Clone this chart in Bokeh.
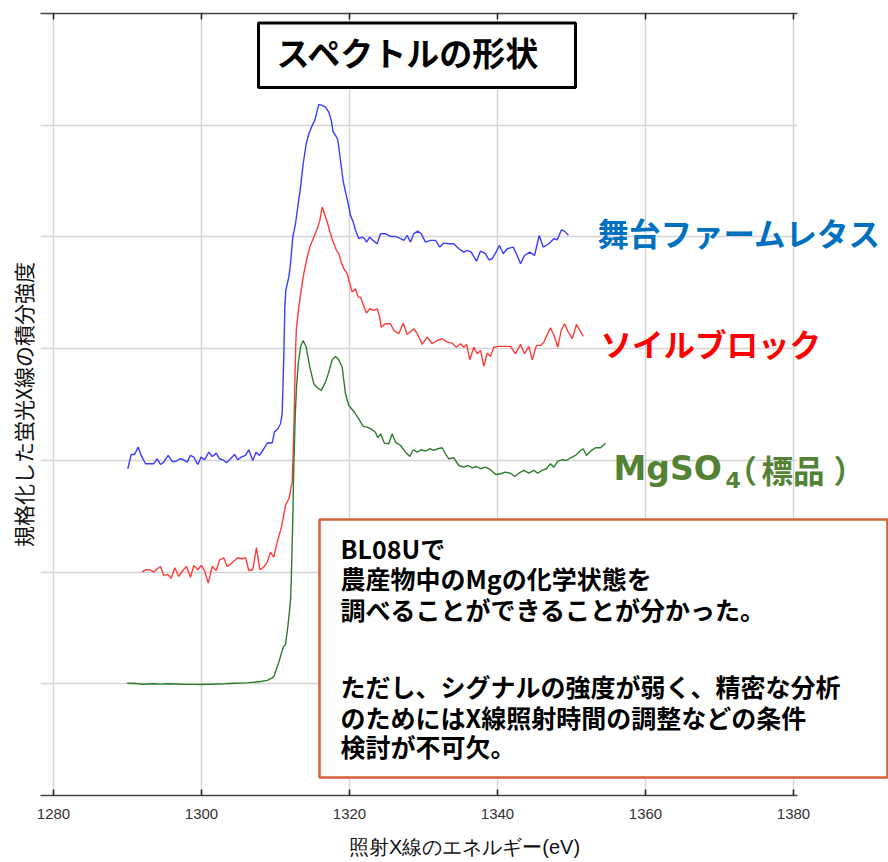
from bokeh.plotting import figure
from bokeh.models import Range1d, FixedTicker, LinearAxis, Label, BoxAnnotation
from bokeh.embed import file_html
from bokeh.resources import INLINE

# ---------------- data ----------------
x_ticks = [1280, 1300, 1320, 1340, 1360, 1380]
y_grid = [0, 1, 2, 3, 4, 5, 6, 7]

lettuce_e = [1290.04, 1290.50, 1290.95, 1291.45, 1291.85, 1292.43, 1293.10, 1293.55, 1294.00, 1294.46,
             1294.90, 1295.50, 1296.04, 1296.49, 1297.07, 1297.60, 1298.07, 1298.50, 1298.96, 1299.50,
             1299.96, 1300.40, 1300.99, 1301.45, 1301.99, 1302.43, 1302.88, 1303.38, 1303.92, 1304.46,
             1304.90, 1305.36, 1305.95, 1306.39, 1306.93, 1307.39, 1307.84, 1308.34, 1308.88, 1309.10,
             1309.55, 1309.86, 1310.31, 1310.68, 1310.90, 1311.12, 1311.26, 1311.39, 1311.80, 1312.03,
             1312.34, 1312.70, 1313.01, 1313.38, 1313.74, 1314.15, 1314.50, 1314.96, 1315.31, 1315.64,
             1315.85, 1316.31, 1316.76, 1317.20, 1317.53, 1317.80, 1318.11, 1318.42, 1318.78, 1319.15,
             1319.46, 1319.82, 1320.14, 1320.50, 1320.81, 1321.26, 1321.72, 1322.03, 1322.30, 1322.74,
             1323.28, 1323.74, 1324.19, 1324.86, 1325.54, 1326.22, 1326.89, 1327.34, 1327.80, 1328.24,
             1328.69, 1329.23, 1329.69, 1330.27, 1330.95, 1331.62, 1332.20, 1332.74, 1333.42, 1334.09,
             1334.77, 1335.45, 1335.90, 1336.45, 1337.16, 1337.70, 1338.38, 1338.82, 1339.28, 1339.73,
             1340.27, 1340.77, 1341.31, 1342.12, 1342.66, 1343.11, 1343.65, 1344.36, 1345.00, 1345.64,
             1346.18, 1346.93, 1347.61, 1348.07, 1348.65, 1349.05, 1349.59]
lettuce_i = [2.925, 3.053, 3.053, 3.118, 3.044, 2.970, 2.970, 2.970, 3.014, 2.963,
             2.984, 3.044, 2.990, 2.990, 3.014, 3.005, 2.984, 3.044, 3.029, 2.963,
             3.029, 3.005, 3.073, 3.035, 3.065, 3.014, 3.005, 2.979, 3.014, 3.053,
             3.005, 3.029, 3.044, 3.095, 2.999, 3.073, 3.044, 3.095, 3.154, 3.158,
             3.154, 3.253, 3.283, 3.328, 3.417, 3.924, 4.372, 4.521, 4.640, 4.760,
             4.998, 5.118, 5.267, 5.446, 5.655, 5.834, 5.924, 5.998, 6.043, 6.133,
             6.186, 6.177, 6.162, 6.117, 6.043, 5.938, 5.909, 5.870, 5.685, 5.496,
             5.401, 5.297, 5.193, 5.133, 5.059, 4.984, 4.998, 4.984, 4.954, 4.998,
             4.962, 4.939, 5.029, 5.029, 5.004, 5.004, 4.984, 4.969, 5.013, 4.954,
             5.029, 5.052, 5.029, 4.954, 4.969, 4.969, 4.909, 4.945, 4.939, 4.939,
             4.894, 4.864, 4.879, 4.864, 4.783, 4.873, 4.850, 4.796, 4.805, 4.855,
             4.924, 4.850, 4.894, 4.909, 4.834, 4.760, 4.834, 4.864, 4.834, 5.013,
             4.909, 4.939, 4.984, 4.975, 5.064, 5.052, 5.016]

soil_e = [1291.99, 1292.43, 1293.01, 1293.55, 1294.01, 1294.46, 1294.90, 1295.45, 1295.90, 1296.39,
          1296.93, 1297.47, 1297.97, 1298.51, 1298.96, 1299.50, 1299.96, 1300.41, 1300.91, 1301.45,
          1301.99, 1302.47, 1303.01, 1303.47, 1304.01, 1304.46, 1304.91, 1305.50, 1305.95, 1306.39,
          1306.93, 1307.43, 1307.88, 1308.42, 1308.88, 1309.32, 1309.77, 1310.23, 1310.81, 1311.35,
          1311.80, 1312.26, 1312.30, 1312.47, 1312.61, 1312.74, 1312.84, 1313.15, 1313.47, 1313.82,
          1314.28, 1314.64, 1315.09, 1315.64, 1315.99, 1316.31, 1316.62, 1316.99, 1317.43, 1317.80,
          1318.24, 1318.55, 1318.88, 1319.23, 1319.69, 1320.04, 1320.36, 1320.81, 1321.18, 1321.49,
          1321.80, 1322.30, 1322.74, 1323.28, 1323.74, 1324.09, 1324.28, 1324.86, 1325.54, 1325.99,
          1326.66, 1327.26, 1327.80, 1328.69, 1329.23, 1329.82, 1330.50, 1331.18, 1331.85, 1332.53,
          1333.20, 1333.88, 1334.46, 1335.00, 1335.45, 1335.81, 1336.26, 1336.80, 1337.26, 1337.70,
          1338.15, 1338.61, 1339.05, 1339.50, 1340.18, 1341.08, 1341.76, 1342.43, 1343.11, 1343.65,
          1344.23, 1344.69, 1345.27, 1345.81, 1346.26, 1347.16, 1347.70, 1348.15, 1348.61, 1349.05,
          1349.50, 1350.09, 1350.68, 1351.12, 1351.58]
soil_i = [1.999, 2.021, 2.021, 1.999, 2.030, 2.050, 1.970, 1.979, 1.945, 2.039,
          1.961, 2.014, 2.050, 1.954, 2.059, 2.021, 2.059, 2.014, 1.901, 2.050,
          2.014, 2.110, 2.128, 2.050, 2.074, 2.104, 2.128, 2.119, 2.128, 2.014,
          2.021, 2.218, 2.021, 2.044, 2.089, 2.178, 2.133, 2.268, 2.402, 2.596,
          2.656, 2.805, 2.910, 3.238, 3.686, 4.044, 4.193, 4.372, 4.521, 4.670,
          4.819, 4.909, 4.984, 5.073, 5.148, 5.267, 5.208, 5.133, 5.029, 4.954,
          4.879, 4.850, 4.774, 4.715, 4.671, 4.581, 4.506, 4.536, 4.461, 4.461,
          4.402, 4.318, 4.357, 4.342, 4.357, 4.282, 4.193, 4.223, 4.223, 4.163,
          4.133, 4.228, 4.127, 4.178, 4.127, 4.038, 4.103, 4.044, 4.073, 4.089,
          4.058, 4.049, 4.013, 4.044, 4.013, 4.038, 3.901, 4.013, 3.954, 3.984,
          3.841, 3.960, 3.930, 4.013, 4.020, 4.020, 4.020, 3.954, 4.038, 3.954,
          4.020, 3.901, 4.029, 4.029, 4.058, 4.187, 4.109, 4.013, 4.163, 4.223,
          4.157, 4.089, 4.217, 4.163, 4.109]

mgso4_e = [1289.96, 1291.00, 1292.20, 1293.50, 1294.50, 1295.40, 1296.50, 1297.50, 1298.70, 1299.90,
           1301.00, 1302.20, 1303.30, 1304.40, 1305.50, 1306.40, 1307.10, 1308.00, 1308.90, 1309.50,
           1309.80, 1310.45, 1311.04, 1311.35, 1311.66, 1311.80, 1312.03, 1312.12, 1312.34, 1312.47,
           1312.66, 1312.84, 1313.07, 1313.38, 1313.74, 1314.15, 1314.64, 1315.18, 1315.64, 1316.18,
           1316.76, 1317.20, 1317.66, 1318.11, 1318.55, 1319.01, 1319.46, 1319.91, 1320.58, 1321.26,
           1321.85, 1322.39, 1323.07, 1323.51, 1323.82, 1324.19, 1324.73, 1325.31, 1325.77, 1326.22,
           1326.89, 1327.57, 1328.15, 1328.61, 1329.15, 1329.69, 1330.27, 1330.85, 1331.39, 1331.93,
           1332.53, 1332.97, 1333.42, 1334.09, 1334.77, 1335.45, 1336.04, 1336.58, 1337.16, 1337.70,
           1338.38, 1339.05, 1339.73, 1340.41, 1341.08, 1341.76, 1342.34, 1342.88, 1343.55, 1344.23,
           1344.91, 1345.45, 1346.04, 1346.62, 1347.16, 1347.61, 1348.15, 1348.74, 1349.32, 1349.86,
           1350.54, 1351.12, 1351.58, 1352.03, 1352.57, 1353.24, 1353.92, 1354.59]
mgso4_i = [1.005, 1.003, 0.996, 1.000, 0.997, 1.000, 0.998, 0.996, 0.995, 0.994,
           0.996, 0.998, 1.000, 1.005, 1.006, 1.010, 1.014, 1.020, 1.030, 1.050,
           1.070, 1.193, 1.328, 1.352, 1.507, 1.596, 1.746, 1.895, 2.492, 2.939,
           3.387, 3.655, 3.865, 4.014, 4.073, 4.014, 3.834, 3.686, 3.650, 3.626,
           3.700, 3.790, 3.901, 3.930, 3.901, 3.834, 3.596, 3.491, 3.438, 3.372,
           3.304, 3.297, 3.274, 3.252, 3.202, 3.238, 3.154, 3.149, 3.238, 3.163,
           3.133, 3.073, 3.035, 3.095, 3.073, 3.095, 3.082, 3.104, 3.089, 3.104,
           3.113, 3.059, 3.014, 3.023, 2.954, 2.939, 2.954, 2.933, 2.945, 2.925,
           2.939, 2.916, 2.874, 2.880, 2.894, 2.885, 2.856, 2.885, 2.910, 2.885,
           2.910, 2.885, 2.910, 2.925, 2.970, 2.939, 2.993, 3.005, 2.999, 3.023,
           3.044, 3.082, 3.104, 3.044, 3.082, 3.113, 3.113, 3.154]

title_text = "スペクトルの形状"
series_names = ["舞台ファームレタス", "ソイルブロック", "MgSO", "4", "（", "標品", "）"]
note_lines = ["BL08Uで",
              "農産物中のMgの化学状態を",
              "調べることができることが分かった。",
              "ただし、シグナルの強度が弱く、精密な分析",
              "のためにはX線照射時間の調整などの条件",
              "検討が不可欠。"]
x_label = "照射X線のエネルギー(eV)"
y_label = "規格化した蛍光X線の積分強度"

# ---------------- figure ----------------
CJK = "Noto Sans CJK JP"
SANS = "Liberation Sans"
X_LO, X_GRID_END, X_HI = 1278.243, 1380.54, 1392.838

p = figure(width=888, height=862, output_backend="svg", toolbar_location=None,
           x_range=Range1d(X_LO, X_HI), y_range=Range1d(0, 7),
           min_border_left=40, min_border_right=0, min_border_top=13, min_border_bottom=67,
           outline_line_color=None, background_fill_color="white", border_fill_color="white")

p.xaxis.ticker = FixedTicker(ticks=x_ticks)
p.xaxis.bounds = (X_LO, X_GRID_END)
p.xaxis.major_tick_in = 6
p.xaxis.major_tick_out = 0
p.xaxis.minor_tick_line_color = None
p.xaxis.axis_line_color = "#444444"
p.xaxis.axis_line_width = 1.5
p.xaxis.major_tick_line_color = "#222222"
p.xaxis.major_tick_line_width = 1.5
p.xaxis.major_label_text_font = SANS
p.xaxis.major_label_text_font_size = "15px"
p.xaxis.major_label_text_color = "#333333"
p.xaxis.major_label_standoff = 13
p.xaxis.axis_label = x_label
p.xaxis.axis_label_text_font = SANS
p.xaxis.axis_label_text_font_style = "normal"
p.xaxis.axis_label_text_font_size = "20px"
p.xaxis.axis_label_text_color = "#111111"
p.xaxis.axis_label_standoff = 14

p.yaxis.ticker = FixedTicker(ticks=y_grid)
p.yaxis.axis_line_color = None
p.yaxis.major_tick_line_color = None
p.yaxis.major_tick_out = 0
p.yaxis.major_tick_in = 0
p.yaxis.minor_tick_line_color = None
p.yaxis.major_label_text_font_size = "0px"
p.yaxis.major_label_standoff = 0
p.yaxis.axis_label = y_label
p.yaxis.axis_label_text_font = CJK
p.yaxis.axis_label_text_font_style = "normal"
p.yaxis.axis_label_text_font_size = "21px"
p.yaxis.axis_label_text_color = "#111111"
p.yaxis.axis_label_standoff = 3

top_axis = LinearAxis(ticker=FixedTicker(ticks=x_ticks), bounds=(X_LO, X_GRID_END),
                      major_tick_in=6, major_tick_out=0,
                      minor_tick_line_color=None, major_label_text_font_size="0px",
                      major_label_standoff=0, axis_line_color="#444444", axis_line_width=1.5,
                      major_tick_line_color="#222222", major_tick_line_width=1.5)
p.add_layout(top_axis, "above")

p.xgrid.ticker = FixedTicker(ticks=x_ticks)
p.ygrid.ticker = FixedTicker(ticks=y_grid)
p.grid.grid_line_color = "#d4d4d4"
p.grid.grid_line_width = 1.5
for g in p.ygrid:
    if "cross_bounds" in g.properties():
        g.cross_bounds = (X_LO, X_GRID_END)

p.line(lettuce_e, lettuce_i, line_color="#3c3cff", line_width=1.4)
p.line(soil_e, soil_i, line_color="#ff3c3c", line_width=1.4)
p.line(mgso4_e, mgso4_i, line_color="#2e7d2e", line_width=1.4)

# title box
p.add_layout(BoxAnnotation(left=1307.70, right=1350.54, bottom=6.338, top=6.914,
                           fill_color="white", fill_alpha=1, line_color="black", line_alpha=1,
                           line_width=3))
p.add_layout(Label(x=1327.97, y=6.652, text=title_text, text_align="center", text_baseline="middle",
                   text_font=CJK, text_font_style="bold", text_font_size="33px", text_color="black"))

# series labels
BLUE, RED, GREEN = "#0070c0", "#ff0000", "#548235"
p.add_layout(Label(x=1353.51, y=5.040, text=series_names[0], text_baseline="middle",
                   text_font=CJK, text_font_style="bold", text_font_size="31.5px", text_color=BLUE))
p.add_layout(Label(x=1353.92, y=4.047, text=series_names[1], text_baseline="middle",
                   text_font=CJK, text_font_style="bold", text_font_size="31.5px", text_color=RED))
p.add_layout(Label(x=1355.68, y=2.927, text=series_names[2], text_baseline="middle",
                   text_font="DejaVu Sans", text_font_style="bold", text_font_size="33px",
                   text_color=GREEN))
p.add_layout(Label(x=1370.81, y=2.820, text=series_names[3], text_baseline="middle",
                   text_font="DejaVu Sans", text_font_style="bold", text_font_size="22px",
                   text_color=GREEN))
for txt, xx in zip(series_names[4:], [1370.81, 1375.68, 1385.41]):
    p.add_layout(Label(x=xx, y=2.927, text=txt, text_baseline="middle",
                       text_font=CJK, text_font_style="bold", text_font_size="31.5px",
                       text_color=GREEN))

# note box
p.add_layout(BoxAnnotation(left=1315.95, right=1392.70, bottom=0.161, top=2.471,
                           fill_color="white", fill_alpha=1, line_color="#d5603a", line_alpha=1,
                           line_width=2.5))
note_y = [2.211, 1.943, 1.665, 0.976, 0.707, 0.439]
for txt, yy in zip(note_lines, note_y):
    p.add_layout(Label(x=1318.78, y=yy, text=txt, text_baseline="middle",
                       text_font=CJK, text_font_style="bold", text_font_size="25px", text_color="black"))

open("out.html", "w").write(file_html(p, INLINE))
